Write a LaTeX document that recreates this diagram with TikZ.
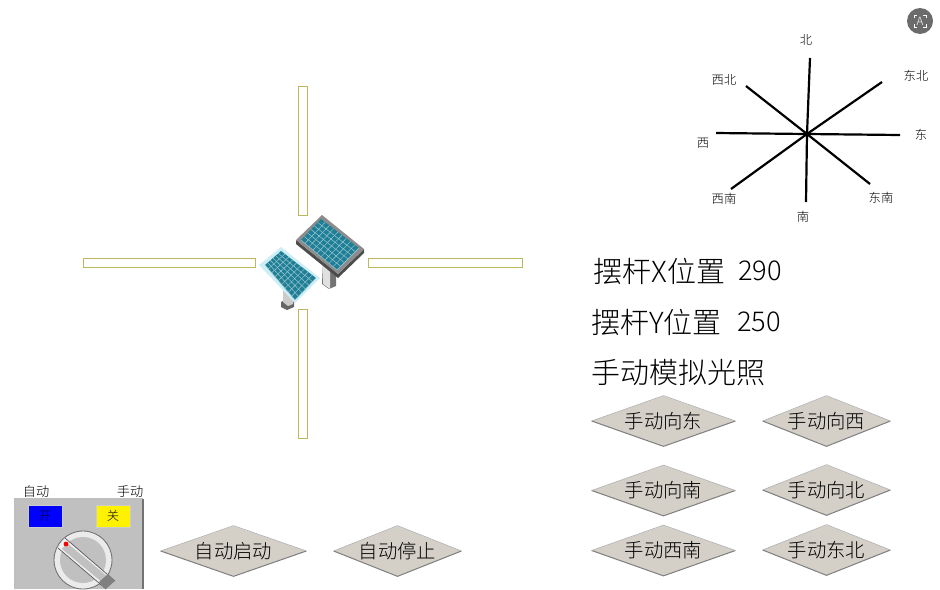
\documentclass[tikz,border=0pt]{standalone}
\usepackage{fontspec}
\setmainfont{Noto Sans CJK SC Light}
\usetikzlibrary{shapes.geometric,calc}

\definecolor{railc}{HTML}{BDB85E}
\definecolor{btnc}{HTML}{D4D0C8}
\definecolor{boxc}{HTML}{C0C0C0}
\definecolor{cellc}{HTML}{1F7F96}
\definecolor{framec}{HTML}{CDEEF5}

\tikzset{
  rail/.style={draw=railc,fill=white,line width=.45pt},
  btn/.style={diamond,aspect=2.5,fill=btnc,inner sep=0pt,font=\fontsize{11}{11}\selectfont},
  dirlabel/.style={font=\fontsize{7}{7}\selectfont,text=black,inner sep=0pt},
  readout/.style={anchor=west,inner sep=0pt,font=\fontsize{16.5}{17}\selectfont},
  numout/.style={anchor=west,inner sep=0pt,font=\fontsize{15.5}{16}\selectfont},
  spoke/.style={line width=1.25pt,black},
}

% corners top, right, bottom, left; then cells along top edge, along left edge
\newcommand{\PanelCells}[6]{
  \fill[cellc] (#1) -- (#2) -- (#3) -- (#4) -- cycle;
  \foreach \i in {1,...,#5}
    \draw[white!60!cellc,line width=.25pt] ($(#1)!\i/#5!(#2)$) -- ($(#4)!\i/#5!(#3)$);
  \foreach \j in {1,...,#6}
    \draw[white!60!cellc,line width=.25pt] ($(#1)!\j/#6!(#4)$) -- ($(#2)!\j/#6!(#3)$);
}

\begin{document}
\begin{tikzpicture}[x=.02cm,y=-.02cm]
  \useasboundingbox (0,0) rectangle (940,589);

  % rails
  \draw[rail] (298,86) rectangle (307,215);
  \draw[rail] (298,309) rectangle (307,438);
  \draw[rail] (83,258) rectangle (255,267);
  \draw[rail] (368,258) rectangle (522,267);

  % big panel
  \begin{scope}
    \fill[black!55] (323,262) -- (336,272) -- (336,286) -- (329,289) -- (322,284) -- cycle;
    \fill[black!12] (323,262) -- (330,268) -- (330,289) -- (323,284) -- cycle;
    \fill[black!70] (296,240) -- (338,274) -- (364,249) -- (364,253) -- (338,278) -- (296,244) -- cycle;
    \fill[black!45] (322,215) -- (364,249) -- (338,274) -- (296,240) -- cycle;
    \coordinate (bt) at (321,219);
    \coordinate (br) at (359,248);
    \coordinate (bb) at (337,270);
    \coordinate (bl) at (301,240);
    \PanelCells{bt}{br}{bb}{bl}{9}{6}
  \end{scope}

  % small panel
  \begin{scope}
    \fill[black!60] (281,302) -- (288,298) -- (294,302) -- (294,307) -- (287,310) -- (281,307) -- cycle;
    \fill[black!20] (283,288) -- (293,294) -- (293,304) -- (288,306) -- (283,302) -- cycle;
    \fill[framec] (281,247) -- (320,278) -- (295,303) -- (259,265) -- cycle;
    \coordinate (st) at (281,251);
    \coordinate (sr) at (316,278);
    \coordinate (sb) at (295,300);
    \coordinate (sl) at (265,265);
    \PanelCells{st}{sr}{sb}{sl}{9}{6}
  \end{scope}

  % compass
  \coordinate (hub) at (807,134);
  \coordinate (n) at (810,58);
  \coordinate (s) at (806,202);
  \coordinate (e) at (900,135);
  \coordinate (w) at (716,133);
  \coordinate (ne) at (882,82);
  \coordinate (sw) at (731,189);
  \coordinate (nw) at (746,86);
  \coordinate (se) at (870,184);
  \foreach \tip in {n,s,e,w,ne,sw,nw,se}
    \draw[spoke] (hub) -- (\tip);
  \node[dirlabel] (lbln) at (806,40) {北};
  \node[dirlabel] (lblne) at (916,76) {东北};
  \node[dirlabel] (lblnw) at (724,80) {西北};
  \node[dirlabel] (lblw) at (703,143) {西};
  \node[dirlabel] (lble) at (921,135) {东};
  \node[dirlabel] (lblsw) at (724,199) {西南};
  \node[dirlabel] (lbls) at (803,217) {南};
  \node[dirlabel] (lblse) at (881,198) {东南};

  % icon
  \node[circle,fill=black!58,minimum size=.52cm,inner sep=0pt,text=white,
        font=\fontsize{6.5}{7}\selectfont] (icon) at (920,21) {A};
  \draw[white,line width=.4pt]
    (914,18) -- (914,15) -- (917,15)  (923,15) -- (926,15) -- (926,18)
    (926,24) -- (926,27) -- (923,27)  (917,27) -- (914,27) -- (914,24);

  % readouts
  \node[readout] (xpos) at (593,271) {摆杆X位置};
  \node[numout] (xval) at (738,271) {290};
  \node[readout] (ypos) at (591,322) {摆杆Y位置};
  \node[numout] (yval) at (737,322) {250};
  \node[readout] (manual) at (591,373) {手动模拟光照};

  % buttons
  \foreach \id/\x/\y/\wid/\txt in {
      east/663.5/421/143/手动向东, west/826.5/421/127/手动向西,
      south/663.5/490.5/143/手动向南, north/826.5/490/127/手动向北,
      sw/663.5/550.5/143/手动西南, ne/826.5/550/127/手动东北,
      start/233.5/551/145/自动启动, stop/397.5/551/127/自动停止}{
    \node[btn,minimum width=\wid*.02cm,minimum height=1cm] (btn\id) at (\x,\y) {\txt};
    \draw[black!50,line width=.6pt] (btn\id.west) -- (btn\id.south) -- (btn\id.east);
    \draw[black!30,line width=.4pt] (btn\id.west) -- (btn\id.north) -- (btn\id.east);
  }

  % switch
  \node[dirlabel,font=\fontsize{7.5}{8}\selectfont] (auto) at (36,491) {自动};
  \node[dirlabel,font=\fontsize{7.5}{8}\selectfont] (hand) at (130,491) {手动};
  \fill[boxc] (15,499) rectangle (143,589);
  \draw[black!25,line width=.6pt] (15,589) -- (15,499) -- (143,499);
  \draw[black!55,line width=.8pt] (143,499) -- (143,589);
  \node[draw=black!20,fill=blue,minimum width=.68cm,minimum height=.44cm,inner sep=0pt,
        text=black!80!blue,font=\fontsize{7}{7}\selectfont] (on) at (45,516) {开};
  \node[draw=black!20,fill=yellow,minimum width=.68cm,minimum height=.44cm,inner sep=0pt,
        font=\fontsize{7}{7}\selectfont] (off) at (113,516) {关};
  \fill[black!8] (83,560) circle (29);
  \draw[black!55,line width=.5pt] (83,560) circle (29);
  \fill[boxc] (83,560) circle (23);
  \fill[black!6] (65,538) -- (115,581) -- (106,589) -- (58,548) -- cycle;
  \fill[boxc] (67,543) -- (108,577) -- (103,583) -- (62,549) -- cycle;
  \draw[black!65,line width=.4pt] (65,538) -- (115,581)  (58,548) -- (106,589);
  \fill[black!50] (108,574) -- (115,581) -- (106,589) -- (99,582) -- cycle;
  \fill[red] (66,544) circle (2.4);
\end{tikzpicture}
\end{document}
